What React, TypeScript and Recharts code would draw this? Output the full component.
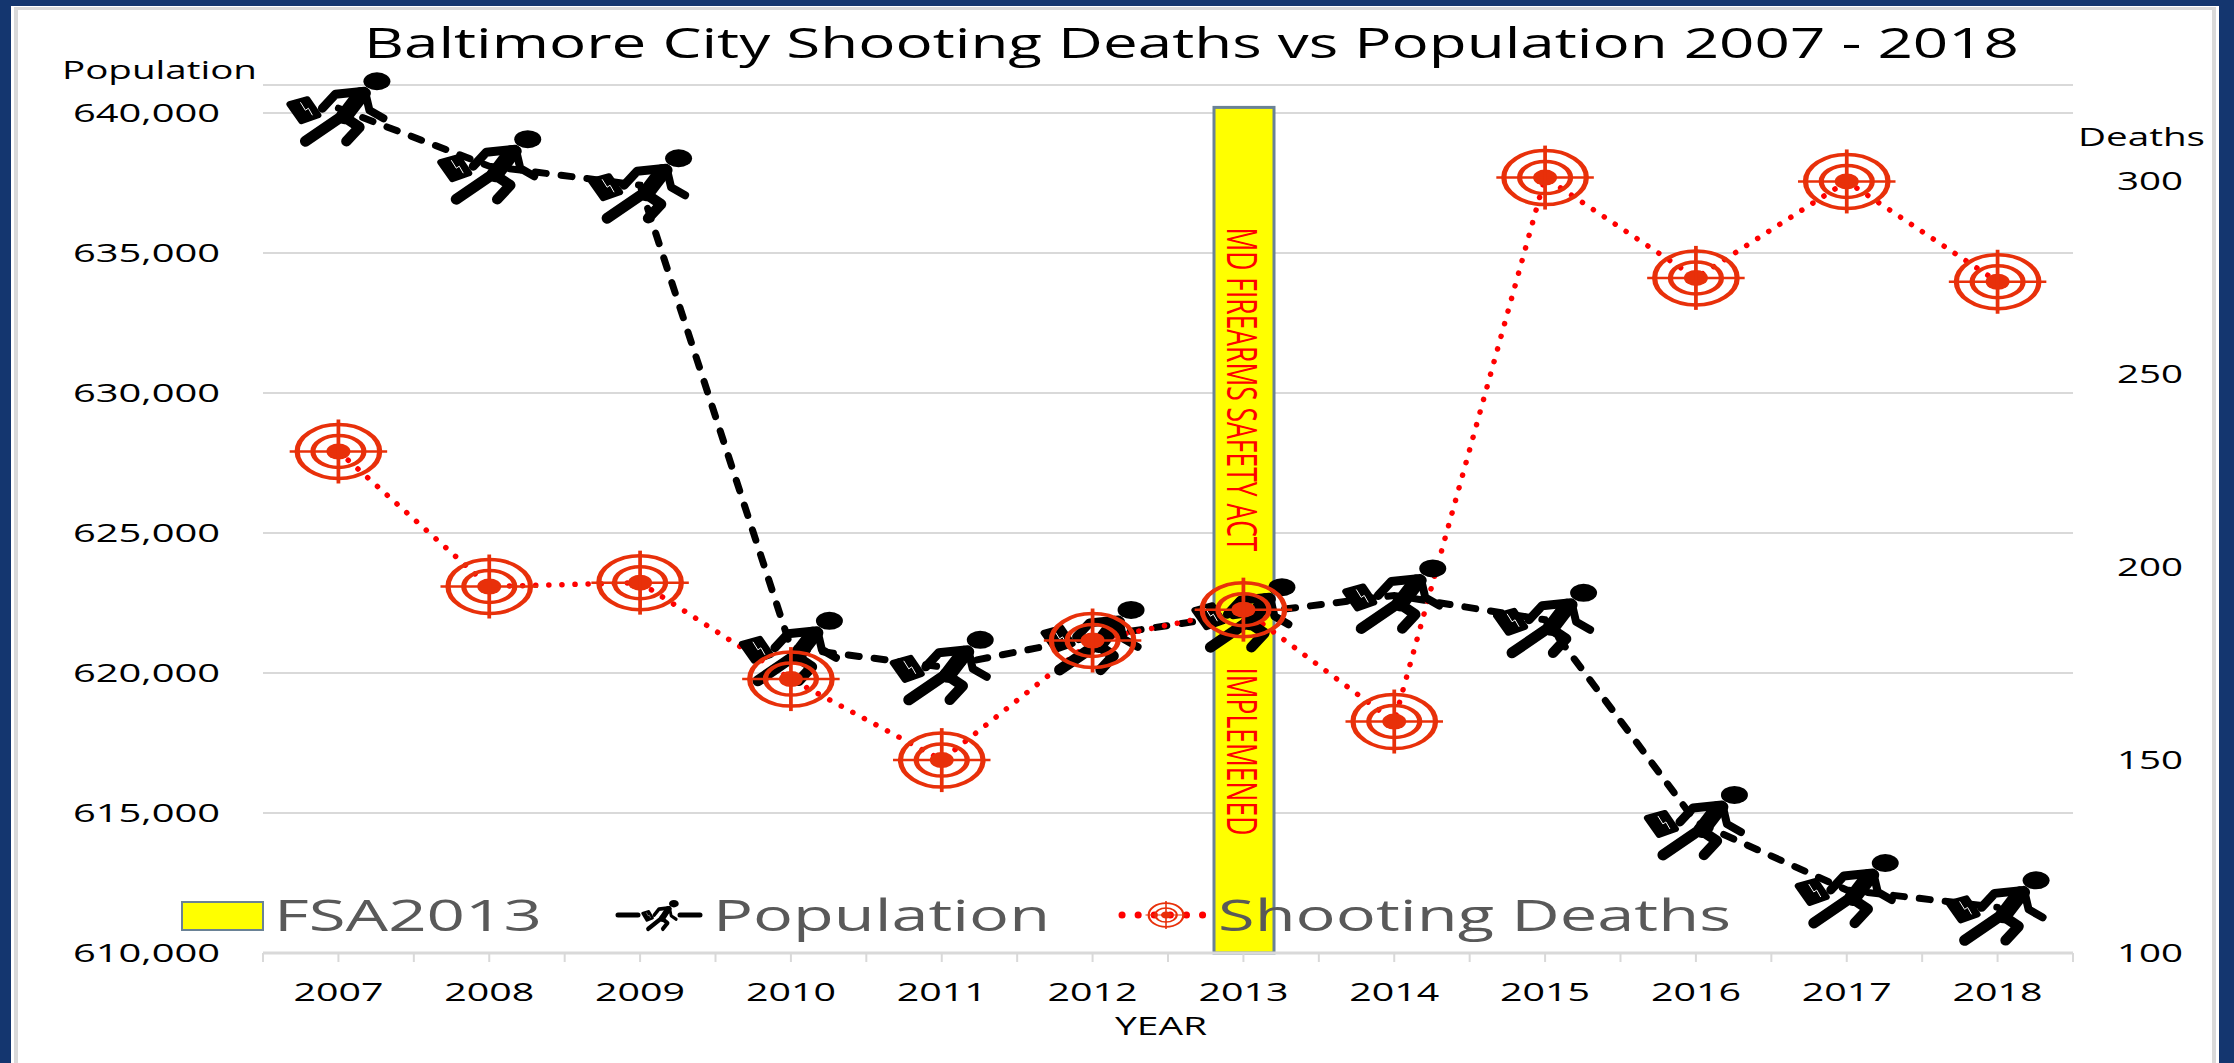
import {
  Bar,
  CartesianGrid,
  ComposedChart,
  Legend,
  Line,
  XAxis,
  YAxis,
} from "recharts";

const years = ["2007", "2008", "2009", "2010", "2011", "2012", "2013", "2014", "2015", "2016", "2017", "2018"];
const population = [640170, 638100, 637420, 620900, 620220, 621290, 622100, 622770, 621900, 614680, 612250, 611630];
const shootingDeaths = [230, 195, 196, 171, 150, 181, 189, 160, 301, 275, 300, 274];
const fsa2013 = [null, null, null, null, null, null, 640200, null, null, null, null, null];

const populationTicks = [610000, 615000, 620000, 625000, 630000, 635000, 640000];
const deathTicks = [100, 150, 200, 250, 300];

const chartData = years.map((year, i) => ({
  year,
  population: population[i],
  deaths: shootingDeaths[i],
  fsa: fsa2013[i],
}));

const WIDTH = 2234;
const HEIGHT = 1063;
const LEFT = 263;
const RIGHT = 161;
const BAND = (WIDTH - LEFT - RIGHT) / years.length;

const FONT = "'Open Sans', sans-serif";
const GRID = "#d9d9d9";
const TARGET = "#e8300a";
const NAVY = "#14366f";
const BAR_EDGE = "#6a8296";

// the source picture is a screenshot stretched sideways, so text widths are forced with textLength
function Stretched({ x, y, length, size, fill = "#000", anchor = "start", children, ...rest }: any) {
  return (
    <text
      x={x}
      y={y}
      fontFamily={FONT}
      fontSize={size}
      fill={fill}
      textAnchor={anchor}
      textLength={length}
      lengthAdjust="spacingAndGlyphs"
      {...rest}
    >
      {children}
    </text>
  );
}

function Runner({ cx, cy, sx = 1, sy = 1 }: any) {
  return (
    <g transform={`translate(${cx},${cy}) scale(${sx},${sy})`}>
      <ellipse cx={38.5} cy={-27} rx={13.5} ry={9} fill="#000" />
      <polygon
        points="-49,-4 -31,-9 -20,7 -37,13"
        fill="#000"
        stroke="#000"
        strokeWidth={6}
        strokeLinejoin="round"
      />
      <polyline points="-38,-6 -33,2 -30,0 -26,7" fill="none" stroke="#fff" strokeWidth={1} />
      <g fill="none" stroke="#000" strokeLinecap="round" strokeLinejoin="round">
        <polyline points="-16,0 -3,-14 26,-17" strokeWidth={9} />
        <polyline points="27,-15 8,5 -33,33" strokeWidth={11} />
        <polyline points="27,-15 31,2 45,10" strokeWidth={8} />
        <polyline points="3,7 21,19 8,33" strokeWidth={10.5} />
        <polyline points="22,-13 6,8" strokeWidth={16} />
      </g>
    </g>
  );
}

function Target({ cx, cy, sx = 1, sy = 1 }: any) {
  return (
    <g transform={`translate(${cx},${cy}) scale(${sx},${sy})`}>
      <g transform="scale(1.5,1)" fill="none" stroke={TARGET}>
        <ellipse rx={27.5} ry={27} strokeWidth={3.5} />
        <ellipse rx={17} ry={16} strokeWidth={3.5} />
        <ellipse rx={8} ry={8} fill={TARGET} stroke="none" />
        <line x1={-32.5} x2={32.5} strokeWidth={2.5} />
        <line y1={-32} y2={32} strokeWidth={2.5} />
      </g>
    </g>
  );
}

const runnerDot = (props: any) => <Runner key={props.index} cx={props.cx} cy={props.cy} />;
const targetDot = (props: any) => <Target key={props.index} cx={props.cx} cy={props.cy} />;

// yellow marker with its rotated caption, so the caption stays above the bar
function ActBar({ x, y, width, height }: any) {
  if (!height) return null;
  const textX = x + 14;
  return (
    <g>
      <rect x={x + 1} y={y} width={width} height={height} fill="#ffff00" stroke={BAR_EDGE} strokeWidth={3} />
      <Stretched x={0} y={0} length={324} size={42} fill="#ff0000" transform={`translate(${textX},${y + 120}) rotate(90)`}>
        MD FIREARMS SAFETY ACT
      </Stretched>
      <Stretched x={0} y={0} length={168} size={42} fill="#ff0000" transform={`translate(${textX},${y + 560}) rotate(90)`}>
        IMPLEMENED
      </Stretched>
    </g>
  );
}

function YearTick({ x, y, payload, index }: any) {
  return (
    <g>
      <line x1={x} x2={x} y1={y} y2={y + 9} stroke={GRID} strokeWidth={2} />
      <line x1={x - BAND / 2} x2={x - BAND / 2} y1={y} y2={y + 9} stroke={GRID} strokeWidth={2} />
      {index === years.length - 1 && (
        <line x1={x + BAND / 2} x2={x + BAND / 2} y1={y} y2={y + 9} stroke={GRID} strokeWidth={2} />
      )}
      <Stretched x={x} y={y + 48} length={90} size={25} anchor="middle">
        {payload.value}
      </Stretched>
    </g>
  );
}

function PopulationTick({ x, y, payload }: any) {
  return (
    <Stretched x={x} y={y + 9} length={147} size={25} anchor="end">
      {payload.value.toLocaleString("en-US")}
    </Stretched>
  );
}

function DeathsTick({ x, y, payload }: any) {
  return (
    <Stretched x={x} y={y + 9} length={66} size={25} anchor="middle">
      {payload.value}
    </Stretched>
  );
}

const legendText = [
  { x: 274, length: 268 },
  { x: 713, length: 337 },
  { x: 1218, length: 513 },
];

function LegendRow({ payload }: any) {
  return (
    <svg width={WIDTH} height={70} style={{ display: "block" }}>
      <rect x={182} y={22} width={81} height={28} fill="#ffff00" stroke={BAR_EDGE} strokeWidth={2} />
      <line x1={618} x2={700} y1={35} y2={35} stroke="#000" strokeWidth={5} strokeDasharray="20 42 20" strokeLinecap="round" />
      <Runner cx={660} cy={35} sx={0.36} sy={0.42} />
      <line x1={1122} x2={1210} y1={35} y2={35} stroke="#ff0000" strokeWidth={7} strokeDasharray="0.1 16" strokeLinecap="round" />
      <Target cx={1166} cy={35} sx={0.42} sy={0.44} />
      {(payload ?? []).map((item: any, i: number) => (
        <Stretched key={item.value} x={legendText[i].x} y={51} length={legendText[i].length} size={44} fill="#595959">
          {item.value}
        </Stretched>
      ))}
    </svg>
  );
}

export default function App() {
  return (
    <div style={{ position: "absolute", left: 0, top: 0, width: WIDTH, height: HEIGHT, background: NAVY, overflow: "hidden" }}>
      <div style={{ position: "absolute", left: 11, top: 6, width: 2208, height: 1057, background: "#fff" }} />
      <div
        style={{
          position: "absolute",
          left: 14,
          top: 7,
          width: 2202,
          height: 1056,
          borderLeft: `4px solid ${GRID}`,
          borderTop: `3px solid ${GRID}`,
          borderRight: `4px solid ${GRID}`,
          boxSizing: "border-box",
        }}
      />
      <div style={{ position: "absolute", left: 0, top: 0 }}>
        <ComposedChart width={WIDTH} height={HEIGHT} data={chartData} margin={{ top: 85, right: 0, bottom: 0, left: 0 }}>
          <CartesianGrid yAxisId="left" vertical={false} stroke={GRID} strokeWidth={2} />
          <XAxis
            dataKey="year"
            height={110}
            axisLine={{ stroke: GRID, strokeWidth: 3 }}
            tickLine={false}
            tickSize={0}
            tickMargin={0}
            interval={0}
            tick={<YearTick />}
          />
          <YAxis
            yAxisId="left"
            width={LEFT}
            domain={[610000, 641000]}
            ticks={populationTicks}
            axisLine={false}
            tickLine={false}
            tick={<PopulationTick />}
            tickSize={0}
            tickMargin={43}
            interval={0}
          />
          <YAxis
            yAxisId="right"
            orientation="right"
            width={RIGHT}
            domain={[100, 325]}
            ticks={deathTicks}
            axisLine={false}
            tickLine={false}
            tick={<DeathsTick />}
            tickSize={0}
            tickMargin={77}
            interval={0}
          />
          <Bar
            yAxisId="left"
            dataKey="fsa"
            name="FSA2013"
            barSize={60}
            fill="#ffff00"
            stroke={BAR_EDGE}
            shape={<ActBar />}
            isAnimationActive={false}
          />
          <Line
            yAxisId="left"
            type="linear"
            dataKey="population"
            name="Population"
            stroke="#000"
            strokeWidth={7}
            strokeDasharray="11 15"
            strokeLinecap="round"
            dot={runnerDot}
            activeDot={false}
            isAnimationActive={false}
          />
          <Line
            yAxisId="right"
            type="linear"
            dataKey="deaths"
            name="Shooting Deaths"
            stroke="#ff0000"
            strokeWidth={5.5}
            strokeDasharray="0.1 13"
            strokeLinecap="round"
            dot={targetDot}
            activeDot={false}
            isAnimationActive={false}
          />
          <Legend
            layout="vertical"
            align="center"
            verticalAlign="middle"
            wrapperStyle={{ left: 0, top: 880, width: WIDTH, height: 70 }}
            content={<LegendRow />}
          />
          <Stretched x={364} y={58} length={1655} size={42}>
            Baltimore City Shooting Deaths vs Population 2007 - 2018
          </Stretched>
          <Stretched x={62} y={79} length={195} size={26}>
            Population
          </Stretched>
          <Stretched x={2078} y={146} length={127} size={26}>
            Deaths
          </Stretched>
          <Stretched x={1161} y={1035} length={92} size={25} anchor="middle">
            YEAR
          </Stretched>
        </ComposedChart>
      </div>
    </div>
  );
}
